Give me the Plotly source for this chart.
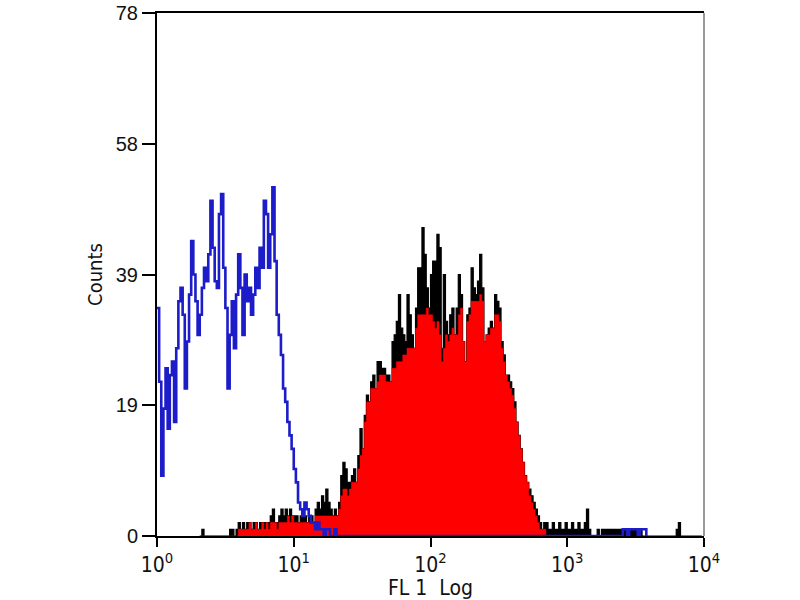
import plotly.graph_objects as go

# ---- data (flow cytometry histogram, 64 channels per decade) ----
CHANNELS_PER_DECADE = 64

BLUE_MAIN_START = 0
BLUE_MAIN = [34, 23, 9, 19, 25, 16, 24, 26, 17, 28,
             35, 37, 33, 22, 29, 36, 44, 39, 35, 30,
             33, 37, 40, 38, 42, 50, 43, 38, 37, 48,
             51, 40, 34, 22, 30, 35, 28, 36, 42, 37,
             30, 39, 35, 37, 33, 36, 40, 37, 43, 40,
             50, 48, 40, 45, 52, 41, 33, 30, 27, 22,
             20, 17, 15, 13, 10, 8, 5, 4, 3, 5,
             4, 3, 2, 2, 1, 2, 1, 1, 0, 1,
             1, 0, 0, 1, 0]
BLUE_TAIL_START = 214
BLUE_TAIL = [0, 0, 0, 0, 1, 1, 0, 1, 1, 1, 1, 0, 1, 1, 1, 0]

STAINED_START = 20
BLACK_COUNTS = [0, 1, 0, 0, 0, 0, 0, 0, 0, 0,
                0, 0, 0, 0, 1, 1, 0, 1, 2, 1,
                2, 1, 2, 2, 1, 2, 2, 1, 2, 2,
                2, 2, 2, 3, 4, 2, 2, 3, 4, 3,
                4, 3, 4, 3, 3, 3, 2, 3, 3, 3,
                2, 3, 3, 2, 4, 5, 4, 6, 5, 7,
                5, 4, 3, 4, 3, 5, 9, 11, 10, 8,
                8, 9, 10, 8, 12, 16, 13, 18, 21, 20,
                23, 24, 22, 26, 26, 25, 25, 24, 24, 23,
                29, 30, 32, 36, 31, 30, 29, 36, 33, 30,
                28, 34, 40, 40, 46, 42, 37, 34, 39, 41,
                41, 45, 43, 28, 39, 32, 30, 33, 34, 30,
                34, 39, 36, 29, 26, 33, 34, 40, 37, 36,
                38, 42, 37, 29, 30, 31, 32, 31, 36, 35,
                34, 29, 27, 24, 24, 23, 22, 20, 17, 15,
                13, 11, 9, 8, 7, 6, 5, 4, 3, 2,
                1, 2, 2, 1, 1, 2, 1, 1, 2, 1,
                1, 2, 1, 1, 2, 1, 1, 2, 1, 1,
                2, 4, 1, 0, 0, 0, 1, 0, 1, 1,
                1, 1, 1, 1, 1, 1, 1, 1, 1, 1,
                1, 1, 1, 1, 1, 1, 1, 0, 0, 0,
                0, 0, 0, 0, 0, 0, 0, 0, 0, 0,
                0, 0, 0, 1, 2, 0, 0, 0, 0, 0,
                0, 0, 0, 0, 0, 0]
RED_COUNTS = [0, 0, 0, 0, 0, 0, 0, 0, 0, 0,
              0, 0, 0, 0, 0, 0, 0, 0, 1, 1,
              1, 1, 1, 2, 1, 1, 2, 1, 1, 2,
              1, 2, 1, 2, 2, 2, 1, 2, 2, 2,
              2, 3, 2, 3, 2, 2, 2, 2, 2, 2,
              2, 2, 2, 2, 3, 3, 3, 3, 3, 3,
              3, 3, 3, 3, 3, 4, 6, 7, 7, 6,
              7, 8, 8, 8, 10, 12, 13, 17, 20, 20,
              22, 22, 22, 23, 24, 24, 24, 23, 23, 23,
              25, 25, 26, 26, 26, 27, 27, 28, 28, 28,
              28, 31, 33, 33, 33, 33, 34, 33, 33, 32,
              31, 32, 30, 26, 28, 30, 29, 30, 31, 30,
              30, 33, 34, 29, 26, 32, 33, 35, 35, 35,
              35, 36, 35, 29, 30, 30, 31, 31, 33, 33,
              32, 28, 26, 24, 23, 22, 21, 19, 17, 15,
              13, 11, 9, 8, 6, 5, 4, 3, 2, 1,
              1, 1, 0, 0, 0, 0, 0, 0, 0, 0]

X_TICK_VALUES = [1, 10, 100, 1000, 10000]
X_TICK_LABELS = ["10<sup>0</sup>", "10<sup>1</sup>", "10<sup>2</sup>",
                 "10<sup>3</sup>", "10<sup>4</sup>"]
Y_TICK_VALUES = [0, 19.5, 39, 58.5, 78]
Y_TICK_LABELS = ["0", "19", "39", "58", "78"]


def channel_x(start, n):
    return [10 ** ((start + i) / CHANNELS_PER_DECADE) for i in range(n)]


blue_counts = BLUE_MAIN + [0] * (BLUE_TAIL_START - len(BLUE_MAIN)) + BLUE_TAIL
blue_x = channel_x(BLUE_MAIN_START, len(blue_counts))
black_x = channel_x(STAINED_START, len(BLACK_COUNTS))
red_x = channel_x(STAINED_START, len(RED_COUNTS))

FONT = "Liberation Sans, Arial, sans-serif"
NARROW = "Liberation Sans Narrow, Arial Narrow, DejaVu Sans Condensed, Liberation Sans, sans-serif"

fig = go.Figure()
fig.add_trace(go.Scatter(x=black_x, y=BLACK_COUNTS, mode="lines", line_shape="hv",
                         line=dict(color="black", width=1.2), fill="tozeroy",
                         fillcolor="black", hoverinfo="skip"))
fig.add_trace(go.Scatter(x=red_x, y=RED_COUNTS, mode="lines", line_shape="hv",
                         line=dict(color="#ff0000", width=0.5), fill="tozeroy",
                         fillcolor="#ff0000", hoverinfo="skip"))
fig.add_trace(go.Scatter(x=blue_x, y=blue_counts, mode="lines", line_shape="hv",
                         line=dict(color="#1c1cc8", width=2.6), hoverinfo="skip"))

fig.update_layout(
    width=800, height=600,
    margin=dict(l=157, r=96, t=13, b=64, autoexpand=False),
    paper_bgcolor="white", plot_bgcolor="white",
    showlegend=False,
    font=dict(family=FONT, color="#111111"),
    xaxis=dict(type="log", range=[0, 4], tickvals=X_TICK_VALUES, ticktext=X_TICK_LABELS,
               ticks="outside", ticklen=9, tickwidth=2, tickcolor="black",
               showline=True, linewidth=2, linecolor="black", mirror=True,
               showgrid=False, zeroline=False, automargin=False,
               tickfont=dict(size=21, family=NARROW, color="#111111"),
               title=dict(text="FL\u00a01\u00a0\u00a0Log", font=dict(size=21, family=NARROW),
                          standoff=8)),
    yaxis=dict(range=[0, 78], tickvals=Y_TICK_VALUES, ticktext=Y_TICK_LABELS,
               ticks="outside", ticklen=13, tickwidth=2, tickcolor="black",
               showline=True, linewidth=2, linecolor="black",
               showgrid=False, zeroline=False, automargin=False,
               ticklabeloverflow="allow",
               tickfont=dict(size=20, family=FONT, color="#111111"),
               title=dict(text="Counts", font=dict(size=20, family=NARROW), standoff=8)),
    shapes=[dict(type="line", xref="paper", yref="paper", x0=1, x1=1, y0=0, y1=1,
                 line=dict(color="#777777", width=1.5))],
)

fig.write_html("out.html", config={"displayModeBar": False},
               post_script="document.body.style.margin='0';")
